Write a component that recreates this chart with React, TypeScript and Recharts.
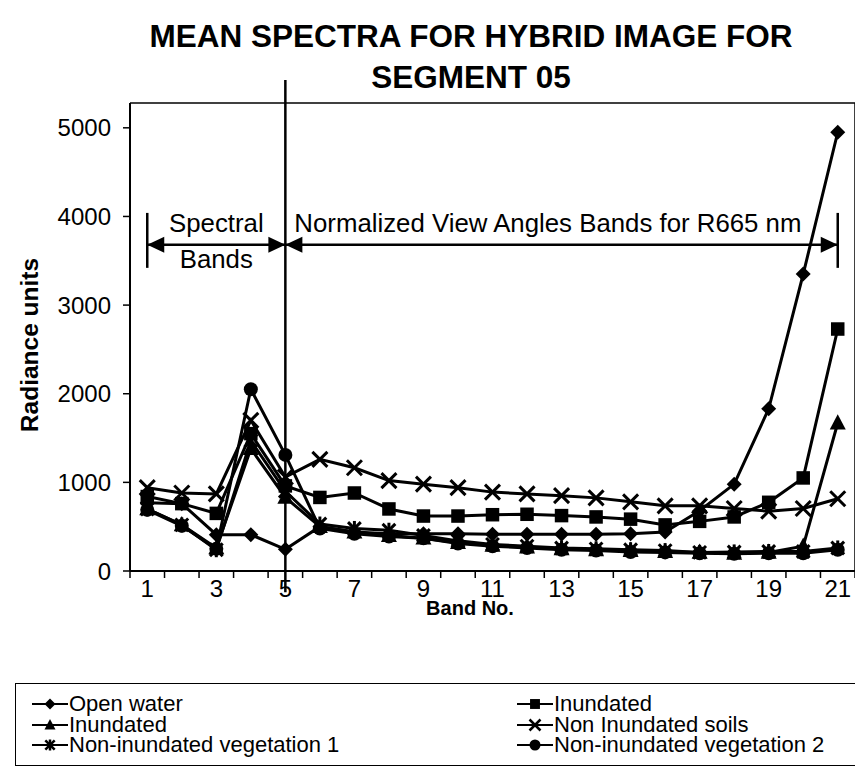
import React from 'react';
import { LineChart, Line, XAxis, YAxis, ReferenceLine, ReferenceDot } from 'recharts';

const bands = [1, 2, 3, 4, 5, 6, 7, 8, 9, 10, 11, 12, 13, 14, 15, 16, 17, 18, 19, 20, 21];
const openWater = [770, 760, 410, 410, 245, 500, 440, 420, 420, 420, 415, 415, 415, 415, 420, 440, 680, 980, 1830, 3350, 4950];
const inundatedSquare = [840, 760, 650, 1550, 960, 830, 880, 700, 620, 620, 635, 640, 625, 610, 585, 520, 560, 610, 775, 1050, 2730];
const inundatedTriangle = [700, 520, 260, 1380, 830, 500, 440, 400, 370, 320, 290, 270, 250, 240, 230, 220, 210, 200, 210, 280, 1670];
const nonInundatedSoils = [940, 880, 870, 1700, 1060, 1260, 1165, 1020, 980, 940, 890, 870, 850, 825, 780, 735, 735, 705, 675, 705, 815];
const nonInundatedVeg1 = [700, 520, 240, 1470, 900, 530, 480, 460, 400, 340, 300, 280, 260, 250, 240, 230, 210, 215, 220, 220, 260];
const nonInundatedVeg2 = [690, 510, 250, 2050, 1310, 480, 420, 390, 370, 310, 280, 260, 240, 230, 215, 210, 200, 195, 200, 200, 240];
const yTicks = [0, 1000, 2000, 3000, 4000, 5000];
const xTickLabels = ['1', '3', '5', '7', '9', '11', '13', '15', '17', '19', '21'];
const seriesNames = ['Open water', 'Inundated', 'Inundated', 'Non Inundated soils', 'Non-inundated vegetation 1', 'Non-inundated vegetation 2'];

const data = bands.map((b, i) => ({
  band: b,
  openWater: openWater[i],
  inundatedSquare: inundatedSquare[i],
  inundatedTriangle: inundatedTriangle[i],
  nonInundatedSoils: nonInundatedSoils[i],
  nonInundatedVeg1: nonInundatedVeg1[i],
  nonInundatedVeg2: nonInundatedVeg2[i],
}));

const xTicks: number[] = [];
bands.forEach((b) => { xTicks.push(b - 0.5); xTicks.push(b); });
xTicks.push(bands[bands.length - 1] + 0.5);

const FONT = "Arial, 'Liberation Sans', Helvetica, sans-serif";
const SW = 3;

type MarkerKind = 'diamond' | 'square' | 'triangle' | 'x' | 'star' | 'circle';

const drawMarker = (kind: MarkerKind, cx: number, cy: number, s: number, key?: string, sw: number = SW) => {
  switch (kind) {
    case 'diamond':
      return <polygon key={key} points={`${cx},${cy - s} ${cx + s},${cy} ${cx},${cy + s} ${cx - s},${cy}`} fill="#000" />;
    case 'square':
      return <rect key={key} x={cx - s * 0.9} y={cy - s * 0.9} width={s * 1.8} height={s * 1.8} fill="#000" />;
    case 'triangle':
      return <polygon key={key} points={`${cx},${cy - s * 1.1} ${cx + s},${cy + s * 0.8} ${cx - s},${cy + s * 0.8}`} fill="#000" />;
    case 'x':
      return (
        <g key={key} stroke="#000" strokeWidth={sw}>
          <line x1={cx - s} y1={cy - s} x2={cx + s} y2={cy + s} />
          <line x1={cx - s} y1={cy + s} x2={cx + s} y2={cy - s} />
        </g>
      );
    case 'star':
      return (
        <g key={key} stroke="#000" strokeWidth={sw}>
          <line x1={cx - s * 0.85} y1={cy - s * 0.85} x2={cx + s * 0.85} y2={cy + s * 0.85} />
          <line x1={cx - s * 0.85} y1={cy + s * 0.85} x2={cx + s * 0.85} y2={cy - s * 0.85} />
          <line x1={cx} y1={cy - s} x2={cx} y2={cy + s} />
        </g>
      );
    case 'circle':
    default:
      return <circle key={key} cx={cx} cy={cy} r={s} fill="#000" />;
  }
};

const makeDot = (kind: MarkerKind, size: number) => (props: any) => {
  const { cx, cy, index } = props;
  if (cx == null || cy == null) return <g key={`e-${kind}-${index}`} />;
  return drawMarker(kind, cx, cy, size, `${kind}-${index}`);
};

const XTick = (props: any) => {
  const { x, y, payload } = props;
  const v = payload.value as number;
  if (!Number.isInteger(v)) {
    return <line x1={x} y1={y} x2={x} y2={y + 7} stroke="#000" strokeWidth={1.5} />;
  }
  const label = xTickLabels.find((t) => Number(t) === v);
  if (!label) return <g />;
  return (
    <text x={x} y={y + 26} textAnchor="middle" fontSize={24} fontFamily={FONT} fill="#000">
      {label}
    </text>
  );
};

const ArrowLine = (props: any) => {
  const { x1, y1, x2, y2 } = props;
  const h = 17;
  const w = 8;
  const left = Math.min(x1, x2);
  const right = Math.max(x1, x2);
  return (
    <g>
      <line x1={left} y1={y1} x2={right} y2={y2} stroke="#000" strokeWidth={2.5} />
      <polygon points={`${left},${y1} ${left + h},${y1 - w} ${left + h},${y1 + w}`} fill="#000" />
      <polygon points={`${right},${y2} ${right - h},${y2 - w} ${right - h},${y2 + w}`} fill="#000" />
    </g>
  );
};

const PlainLine = (props: any) => {
  const { x1, y1, x2, y2 } = props;
  return <line x1={x1} y1={y1} x2={x2} y2={y2} stroke="#000" strokeWidth={2.5} />;
};

const makeText = (text: string, anchor: 'start' | 'middle') => (props: any) => (
  <text x={props.cx} y={props.cy} textAnchor={anchor} fontSize={25.8} fontFamily={FONT} fill="#000">
    {text}
  </text>
);

const legendItems: { kind: MarkerKind; name: string; col: number; row: number }[] = [
  { kind: 'diamond', name: seriesNames[0], col: 0, row: 0 },
  { kind: 'square', name: seriesNames[1], col: 1, row: 0 },
  { kind: 'triangle', name: seriesNames[2], col: 0, row: 1 },
  { kind: 'x', name: seriesNames[3], col: 1, row: 1 },
  { kind: 'star', name: seriesNames[4], col: 0, row: 2 },
  { kind: 'circle', name: seriesNames[5], col: 1, row: 2 },
];

export default function App() {
  return (
    <div style={{ position: 'relative', width: 855, height: 774, background: '#fff', fontFamily: FONT }}>
      <div
        style={{
          position: 'absolute', left: 63, width: 800, top: 8, textAlign: 'center',
          fontSize: 31.5, fontWeight: 'bold', lineHeight: '41px', color: '#000',
        }}
      >
        MEAN SPECTRA FOR HYBRID IMAGE FOR
        <br />
        SEGMENT 05
      </div>
      <div style={{ position: 'absolute', left: 0, top: 0 }}>
        <LineChart width={855} height={620} data={data} margin={{ top: 95, right: 8, left: 0, bottom: 27 }}>
          <XAxis
            dataKey="band"
            type="number"
            domain={[0.5, 21.5]}
            ticks={xTicks}
            interval={0}
            tick={<XTick />}
            tickLine={false}
            tickSize={0}
            tickMargin={0}
            height={30}
            axisLine={{ stroke: '#000', strokeWidth: 2 }}
          />
          <YAxis
            type="number"
            domain={[0, 5280]}
            ticks={yTicks}
            interval={0}
            width={122}
            tickSize={7}
            tickMargin={12}
            tickLine={{ stroke: '#000', strokeWidth: 1.5 }}
            axisLine={{ stroke: '#000', strokeWidth: 2 }}
            tick={{ fill: '#000', fontSize: 24, fontFamily: FONT }}
          />
          <ReferenceLine y={5280} stroke="#000" strokeWidth={1.5} />
          <ReferenceLine x={21.5} stroke="#000" strokeWidth={1.5} />
          <ReferenceLine segment={[{ x: 5, y: -240 }, { x: 5, y: 5540 }]} ifOverflow="visible" shape={<PlainLine />} />
          <ReferenceLine segment={[{ x: 1, y: 4040 }, { x: 1, y: 3420 }]} ifOverflow="visible" shape={<PlainLine />} />
          <ReferenceLine segment={[{ x: 21, y: 4040 }, { x: 21, y: 3420 }]} ifOverflow="visible" shape={<PlainLine />} />
          <ReferenceLine segment={[{ x: 1, y: 3680 }, { x: 5, y: 3680 }]} ifOverflow="visible" shape={<ArrowLine />} />
          <ReferenceLine segment={[{ x: 5, y: 3680 }, { x: 21, y: 3680 }]} ifOverflow="visible" shape={<ArrowLine />} />
          <ReferenceDot x={3} y={3826} r={0} ifOverflow="visible" shape={makeText('Spectral', 'middle')} />
          <ReferenceDot x={3} y={3420} r={0} ifOverflow="visible" shape={makeText('Bands', 'middle')} />
          <ReferenceDot x={5.26} y={3826} r={0} ifOverflow="visible" shape={makeText('Normalized View Angles Bands for R665 nm', 'start')} />

          <Line dataKey="nonInundatedVeg2" name={seriesNames[5]} stroke="#000" strokeWidth={SW} dot={makeDot('circle', 7)} isAnimationActive={false} />
          <Line dataKey="nonInundatedVeg1" name={seriesNames[4]} stroke="#000" strokeWidth={SW} dot={makeDot('star', 7.5)} isAnimationActive={false} />
          <Line dataKey="inundatedTriangle" name={seriesNames[2]} stroke="#000" strokeWidth={SW} dot={makeDot('triangle', 8)} isAnimationActive={false} />
          <Line dataKey="nonInundatedSoils" name={seriesNames[3]} stroke="#000" strokeWidth={SW} dot={makeDot('x', 7.5)} isAnimationActive={false} />
          <Line dataKey="inundatedSquare" name={seriesNames[1]} stroke="#000" strokeWidth={SW} dot={makeDot('square', 7.5)} isAnimationActive={false} />
          <Line dataKey="openWater" name={seriesNames[0]} stroke="#000" strokeWidth={SW} dot={makeDot('diamond', 7.5)} isAnimationActive={false} />
        </LineChart>
      </div>
      <div style={{ position: 'absolute', left: 22, top: 337, width: 0, height: 0 }}>
        <div
          style={{
            position: 'absolute', left: 0, top: 0, transform: 'translate(-50%, -50%) rotate(-90deg)',
            fontSize: 24.5, fontWeight: 'bold', whiteSpace: 'nowrap', color: '#000', lineHeight: '26px',
          }}
        >
          Radiance units
        </div>
      </div>
      <div style={{ position: 'absolute', left: 462, top: 600, width: 0, height: 0 }}>
        <div
          style={{
            position: 'absolute', left: 0, top: 0, transform: 'translate(-50%, -50%)',
            fontSize: 20, fontWeight: 'bold', whiteSpace: 'nowrap', color: '#000', lineHeight: '22px',
          }}
        >
          Band No.
        </div>
      </div>
      <div
        style={{
          position: 'absolute', left: 7, top: 675, width: 843, height: 83,
          border: '1.5px solid #000', boxSizing: 'border-box',
        }}
      />
      {legendItems.map((it) => (
        <div
          key={it.kind}
          style={{
            position: 'absolute', left: it.col === 0 ? 24 : 509, top: 686 + it.row * 20.5, height: 20,
            display: 'flex', alignItems: 'center', whiteSpace: 'nowrap',
          }}
        >
          <svg width={36} height={20} style={{ display: 'block' }}>
            <line x1={0} y1={10} x2={36} y2={10} stroke="#000" strokeWidth={2} />
            {drawMarker(it.kind, 18, 10, 5.5, undefined, 2.5)}
          </svg>
          <span style={{ fontSize: 22, lineHeight: '20px', color: '#000', marginLeft: 1 }}>{it.name}</span>
        </div>
      ))}
    </div>
  );
}
